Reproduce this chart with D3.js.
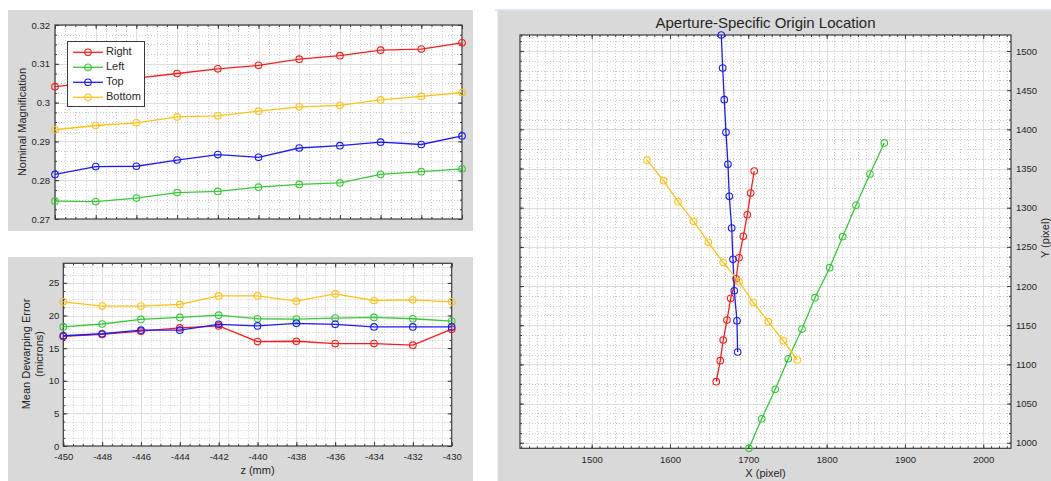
<!DOCTYPE html>
<html>
<head>
<meta charset="utf-8">
<script src="https://cdn.jsdelivr.net/npm/d3@7"></script>
<style>
  html, body { margin: 0; padding: 0; background: #ffffff; }
  svg text { font-family: "Liberation Sans", Arial, Helvetica, sans-serif; fill: #262626; }
</style>
</head>
<body>
<svg id="chart" width="1051" height="481"></svg>
<script>
// ---------------- data ----------------
const zValues = [-450, -448, -446, -444, -442, -440, -438, -436, -434, -432, -430];
const seriesNames = ["Right", "Left", "Top", "Bottom"];
const seriesColors = ["#ff1a1a", "#33cc33", "#1a1aff", "#ffc20f"];

const magRight  = [0.3041, 0.3052, 0.3063, 0.3075, 0.3087, 0.3096, 0.3112, 0.3121, 0.3135, 0.3138, 0.3154];
const magLeft   = [0.2746, 0.2745, 0.2754, 0.2768, 0.2771, 0.2782, 0.2789, 0.2793, 0.2815, 0.2822, 0.2829];
const magTop    = [0.2815, 0.2835, 0.2836, 0.2852, 0.2866, 0.2859, 0.2883, 0.2889, 0.2898, 0.2892, 0.2914];
const magBottom = [0.2930, 0.2941, 0.2948, 0.2963, 0.2966, 0.2978, 0.2989, 0.2993, 0.3007, 0.3016, 0.3026];

const errRight  = [16.8, 17.1, 17.6, 18.1, 18.4, 16.0, 16.05, 15.7, 15.7, 15.45, 17.9];
const errLeft   = [18.25, 18.7, 19.4, 19.7, 20.05, 19.5, 19.45, 19.6, 19.7, 19.5, 19.15];
const errTop    = [16.9, 17.2, 17.75, 17.75, 18.65, 18.4, 18.8, 18.65, 18.25, 18.25, 18.25];
const errBottom = [22.1, 21.45, 21.45, 21.7, 23.0, 23.0, 22.2, 23.3, 22.3, 22.4, 22.1];

const originXRight  = [1707.6, 1703.0, 1698.7, 1693.6, 1688.1, 1684.3, 1677.5, 1672.8, 1668.0, 1664.2, 1659.1];
const originYRight  = [1346.8, 1318.7, 1291.0, 1263.5, 1236.1, 1209.3, 1184.3, 1156.6, 1131.1, 1104.7, 1077.9];
const originXLeft   = [1873.6, 1855.3, 1837.5, 1820.5, 1803.9, 1785.1, 1768.5, 1751.0, 1734.4, 1717.1, 1700.8];
const originYLeft   = [1382.6, 1343.0, 1303.0, 1263.0, 1223.4, 1185.1, 1145.1, 1107.2, 1068.2, 1030.6, 992.9];
const originXTop    = [1665.5, 1667.3, 1669.3, 1671.5, 1674.0, 1675.7, 1678.8, 1680.4, 1682.1, 1685.5, 1686.4];
const originYTop    = [1520.4, 1478.3, 1437.8, 1396.2, 1355.4, 1314.5, 1274.1, 1234.1, 1194.0, 1155.7, 1115.8];
const originXBottom = [1570.6, 1591.9, 1610.2, 1630.2, 1648.9, 1668.0, 1688.1, 1706.3, 1725.5, 1744.6, 1762.5];
const originYBottom = [1360.6, 1334.4, 1307.6, 1282.6, 1255.8, 1230.3, 1205.5, 1179.2, 1154.5, 1130.2, 1105.6];

const magTicks  = [0.27, 0.28, 0.29, 0.3, 0.31, 0.32];
const errTicks  = [0, 5, 10, 15, 20, 25];
const zTicks    = [-450, -448, -446, -444, -442, -440, -438, -436, -434, -432, -430];
const pixXTicks = [1500, 1600, 1700, 1800, 1900, 2000];
const pixYTicks = [1000, 1050, 1100, 1150, 1200, 1250, 1300, 1350, 1400, 1450, 1500];

const titleText = "Aperture-Specific Origin Location";

// ---------------- helpers ----------------
const svg = d3.select("#chart");
const PANEL_BG = "#d9d9d9";
const AX_COLOR = "#3a3a3a";
const TICK_FONT = 9.5;

function minorRange(start, step, count) {
  return d3.range(count + 1).map(i => +(start + i * step).toFixed(6));
}

function drawAxes(g, x, y, o) {
  const [xa, xb] = x.range();
  const [yb, ya] = y.range();
  g.append("rect").attr("x", xa).attr("y", ya).attr("width", xb - xa).attr("height", yb - ya)
    .attr("fill", "#ffffff");

  // minor grid (dotted)
  g.append("g").selectAll("line").data(o.xMinor).join("line")
    .attr("x1", d => Math.round(x(d)) + 0.5).attr("x2", d => Math.round(x(d)) + 0.5)
    .attr("y1", ya).attr("y2", yb)
    .attr("stroke", "#cccccc").attr("stroke-width", 1).attr("stroke-dasharray", "1,2");
  g.append("g").selectAll("line").data(o.yMinor).join("line")
    .attr("y1", d => Math.round(y(d)) + 0.5).attr("y2", d => Math.round(y(d)) + 0.5)
    .attr("x1", xa).attr("x2", xb)
    .attr("stroke", "#cccccc").attr("stroke-width", 1).attr("stroke-dasharray", "1,2");

  // major grid
  g.append("g").selectAll("line").data(o.xMajor).join("line")
    .attr("x1", d => Math.round(x(d)) + 0.5).attr("x2", d => Math.round(x(d)) + 0.5)
    .attr("y1", ya).attr("y2", yb)
    .attr("stroke", "#dedede").attr("stroke-width", 1);
  g.append("g").selectAll("line").data(o.yMajor).join("line")
    .attr("y1", d => Math.round(y(d)) + 0.5).attr("y2", d => Math.round(y(d)) + 0.5)
    .attr("x1", xa).attr("x2", xb)
    .attr("stroke", "#dedede").attr("stroke-width", 1);

  const style = sel => {
    sel.select(".domain").remove();
    sel.selectAll("line").attr("stroke", AX_COLOR);
    sel.selectAll("text").attr("font-size", TICK_FONT).attr("fill", "#262626")
      .attr("font-family", '"Liberation Sans", Arial, sans-serif');
  };
  const fmt = d => String(d);

  // bottom
  g.append("g").attr("transform", `translate(0,${yb})`)
    .call(d3.axisBottom(x).tickValues(o.xMinor).tickSize(-2).tickFormat("")).call(style);
  g.append("g").attr("transform", `translate(0,${yb})`)
    .call(d3.axisBottom(x).tickValues(o.xMajor).tickSize(-4).tickPadding(o.xPad || 5)
      .tickFormat(o.xLabels ? fmt : "")).call(style);
  // top
  g.append("g").attr("transform", `translate(0,${ya})`)
    .call(d3.axisTop(x).tickValues(o.xMinor).tickSize(-2).tickFormat("")).call(style);
  g.append("g").attr("transform", `translate(0,${ya})`)
    .call(d3.axisTop(x).tickValues(o.xMajor).tickSize(-4).tickFormat("")).call(style);
  // left
  g.append("g").attr("transform", `translate(${xa},0)`)
    .call(d3.axisLeft(y).tickValues(o.yMinor).tickSize(-2).tickFormat("")).call(style);
  g.append("g").attr("transform", `translate(${xa},0)`)
    .call(d3.axisLeft(y).tickValues(o.yMajor).tickSize(-4).tickPadding(o.yPad || 5)
      .tickFormat(o.yRight ? "" : fmt)).call(style);
  // right
  g.append("g").attr("transform", `translate(${xb},0)`)
    .call(d3.axisRight(y).tickValues(o.yMinor).tickSize(-2).tickFormat("")).call(style);
  g.append("g").attr("transform", `translate(${xb},0)`)
    .call(d3.axisRight(y).tickValues(o.yMajor).tickSize(-4).tickPadding(o.yPad || 5)
      .tickFormat(o.yRight ? fmt : "")).call(style);

  // box
  g.append("rect").attr("x", xa).attr("y", ya).attr("width", xb - xa).attr("height", yb - ya)
    .attr("fill", "none").attr("stroke", AX_COLOR).attr("stroke-width", 1.2);
}

function drawSeries(g, xs, ys, x, y, color) {
  const pts = xs.map((d, i) => [d, ys[i]]);
  g.append("path").datum(pts)
    .attr("d", d3.line().x(d => x(d[0])).y(d => y(d[1])))
    .attr("fill", "none").attr("stroke", color).attr("stroke-width", 1.3);
  g.append("g").selectAll("circle").data(pts).join("circle")
    .attr("cx", d => x(d[0])).attr("cy", d => y(d[1])).attr("r", 3.3)
    .attr("fill", "none").attr("stroke", color).attr("stroke-width", 1.1);
}

// ---------------- panel A: magnification ----------------
{
  svg.append("rect").attr("x", 8).attr("y", 10).attr("width", 465).attr("height", 221).attr("fill", PANEL_BG);
  const g = svg.append("g");
  const x = d3.scaleLinear().domain([-450, -430]).range([55, 462]);
  const y = d3.scaleLinear().domain([0.27, 0.32]).range([219, 25]);
  drawAxes(g, x, y, {
    xMajor: zTicks, xMinor: minorRange(-450, 0.5, 40),
    yMajor: magTicks, yMinor: minorRange(0.27, 0.0025, 20),
    xLabels: false, yPad: 5
  });
  const mags = [magRight, magLeft, magTop, magBottom];
  mags.forEach((m, i) => drawSeries(g, zValues, m, x, y, seriesColors[i]));

  svg.append("text").attr("transform", "translate(23,122) rotate(-90)")
    .attr("text-anchor", "middle").attr("dominant-baseline", "middle")
    .attr("font-size", 11).text("Nominal Magnification");

  // legend
  const lg = svg.append("g");
  lg.append("rect").attr("x", 67.5).attr("y", 41.5).attr("width", 77).attr("height", 65)
    .attr("fill", "#ffffff").attr("stroke", AX_COLOR).attr("stroke-width", 1);
  const ly = d3.scalePoint().domain(seriesNames).range([52.3, 97.3]);
  seriesNames.forEach((name, i) => {
    const yy = ly(name);
    lg.append("line").attr("x1", 73).attr("x2", 103).attr("y1", yy).attr("y2", yy)
      .attr("stroke", seriesColors[i]).attr("stroke-width", 1.3);
    lg.append("circle").attr("cx", 88).attr("cy", yy).attr("r", 3.3)
      .attr("fill", "none").attr("stroke", seriesColors[i]).attr("stroke-width", 1.1);
    lg.append("text").attr("x", 106).attr("y", yy).attr("dominant-baseline", "middle")
      .attr("font-size", 11).text(name);
  });
}

// ---------------- panel B: dewarping error ----------------
{
  svg.append("rect").attr("x", 8).attr("y", 257).attr("width", 465).attr("height", 224).attr("fill", PANEL_BG);
  const g = svg.append("g");
  const x = d3.scaleLinear().domain([-450, -430]).range([63.3, 451.7]);
  const y = d3.scaleLinear().domain([0, 28]).range([446, 263.3]);
  drawAxes(g, x, y, {
    xMajor: zTicks, xMinor: minorRange(-450, 0.5, 40),
    yMajor: errTicks, yMinor: minorRange(0, 1.25, 22),
    xLabels: true, xPad: 7, yPad: 4
  });
  const errs = [errRight, errLeft, errTop, errBottom];
  errs.forEach((m, i) => drawSeries(g, zValues, m, x, y, seriesColors[i]));

  svg.append("text").attr("transform", "translate(27,354) rotate(-90)")
    .attr("text-anchor", "middle").attr("dominant-baseline", "middle")
    .attr("font-size", 11).text("Mean Dewarping Error");
  svg.append("text").attr("transform", "translate(40,354) rotate(-90)")
    .attr("text-anchor", "middle").attr("dominant-baseline", "middle")
    .attr("font-size", 11).text("(microns)");
  svg.append("text").attr("x", 257.5).attr("y", 471).attr("text-anchor", "middle")
    .attr("dominant-baseline", "middle").attr("font-size", 11).text("z (mm)");
}

// ---------------- panel C: origin location ----------------
{
  svg.append("rect").attr("x", 497.5).attr("y", 10.5).attr("width", 553.5).attr("height", 470.5).attr("fill", PANEL_BG);
  svg.append("rect").attr("x", 495).attr("y", 9.5).attr("width", 556).attr("height", 1.2).attr("fill", "#c8d9ee");
  const g = svg.append("g");
  const x = d3.scaleLinear().domain([1408.5, 2035.4]).range([520, 1011]);
  const y = d3.scaleLinear().domain([992.9, 1520.4]).range([448.3, 35]);
  drawAxes(g, x, y, {
    xMajor: pixXTicks, xMinor: minorRange(1410, 10, 62),
    yMajor: pixYTicks, yMinor: minorRange(1000, 12.5, 41),
    xLabels: true, xPad: 8, yPad: 5, yRight: true
  });
  const ox = [originXRight, originXLeft, originXTop, originXBottom];
  const oy = [originYRight, originYLeft, originYTop, originYBottom];
  ox.forEach((xs, i) => drawSeries(g, xs, oy[i], x, y, seriesColors[i]));

  svg.append("text").attr("x", 765.5).attr("y", 28).attr("text-anchor", "middle")
    .attr("font-size", 15).attr("fill", "#1a1a1a").text(titleText);
  svg.append("text").attr("x", 765.5).attr("y", 474).attr("text-anchor", "middle")
    .attr("dominant-baseline", "middle").attr("font-size", 11).text("X (pixel)");
  svg.append("text").attr("transform", "translate(1046,238) rotate(-90)")
    .attr("text-anchor", "middle").attr("dominant-baseline", "middle")
    .attr("font-size", 11).text("Y (pixel)");
}
</script>
</body>
</html>
